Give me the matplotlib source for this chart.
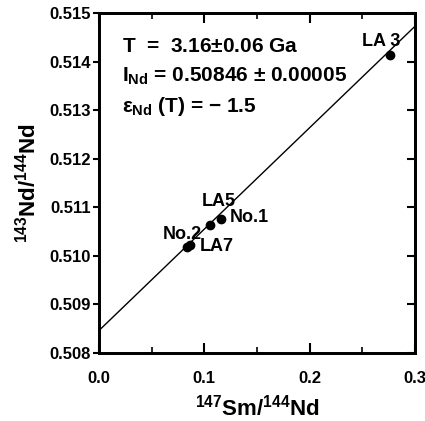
import numpy as np
import matplotlib
matplotlib.use("Agg")
import matplotlib.pyplot as plt

# sample data (147Sm/144Nd, 143Nd/144Nd)
muestras = ["LA 3", "LA5", "No.1", "No.2", "LA7"]
sm_nd = [0.276, 0.105, 0.116, 0.084, 0.086]
nd_nd = [0.51414, 0.51063, 0.51075, 0.51019, 0.51022]
error_y = [0.00003, 0.00008, 0.00005, 0.00005, 0.00003]
# label positions (data coords)
etiqueta_x = [0.2497, 0.0978, 0.1244, 0.0608, 0.0959]
etiqueta_y = [0.51441, 0.51111, 0.51078, 0.51043, 0.51019]

# isochron
intercepto = 0.50846
pendiente = 0.02088
x_linea = [0.0, 0.3]

plt.rcParams['font.family'] = ['Liberation Sans', 'DejaVu Sans']
plt.rcParams['font.weight'] = 'bold'
plt.rcParams['mathtext.fontset'] = 'custom'
plt.rcParams['mathtext.rm'] = 'Liberation Sans:bold'
plt.rcParams['mathtext.bf'] = 'Liberation Sans:bold'
plt.rcParams['mathtext.it'] = 'Liberation Sans:bold'

fig = plt.figure(figsize=(4.25, 4.21), dpi=100)
ax = fig.add_axes([0.233, 0.162, 0.743, 0.807])

y_linea = [intercepto + pendiente * x for x in x_linea]
ax.plot(x_linea, y_linea, color='black', lw=1.0)
ax.errorbar(sm_nd, nd_nd, yerr=error_y, fmt='o', color='black', ms=6, elinewidth=1.2, capsize=0)

ax.set_xlim(0, 0.3)
ax.set_ylim(0.508, 0.515)
ax.set_xticks([0.0, 0.1, 0.2, 0.3])
ax.set_xticklabels(["0.0", "0.1", "0.2", "0.3"])
ax.set_xticks([0.05, 0.15, 0.25], minor=True)
ax.set_yticks(np.arange(0.508, 0.5151, 0.001))
ax.set_yticklabels(["0.508", "0.509", "0.510", "0.511", "0.512", "0.513", "0.514", "0.515"])
ax.tick_params(axis='x', which='both', direction='in', top=True, labelsize=12, pad=13)
ax.tick_params(axis='x', which='major', length=7, width=1.5)
ax.tick_params(axis='x', which='minor', length=4, width=1.2)
ax.tick_params(axis='y', direction='out', length=4, width=1.5, labelsize=12, pad=2)
for l in ax.get_xticklabels() + ax.get_yticklabels():
    l.set_fontweight('bold')

ax2 = ax.twinx()
ax2.set_ylim(0.508, 0.515)
ax2.set_yticks(np.arange(0.508, 0.5151, 0.001))
ax2.tick_params(axis='y', direction='in', length=6, width=1.5, labelright=False)

for s in ax.spines.values():
    s.set_linewidth(2)
for s in ax2.spines.values():
    s.set_linewidth(2)

ax.set_xlabel(r'$\mathbf{^{147}Sm/^{144}Nd}$', fontsize=16, labelpad=6)
ax.set_ylabel(r'$\mathbf{^{143}Nd/^{144}Nd}$', fontsize=16, labelpad=6)

# sample labels
for nombre, ex, ey in zip(muestras, etiqueta_x, etiqueta_y):
    ax.text(ex, ey, nombre, fontsize=13, fontweight='bold', ha='left', va='center')

# age info
ax.text(0.022, 0.51431, r"T  =  3.16$\pm$0.06 Ga", fontsize=15, fontweight='bold', va='center')
ax.text(0.022, 0.51369, r"I$_{\mathbf{Nd}}$ = 0.50846 $\pm$ 0.00005", fontsize=15, fontweight='bold', va='center')
ax.text(0.022, 0.51307, r"$\varepsilon_{\mathbf{Nd}}$ (T) = $-$ 1.5", fontsize=15, fontweight='bold', va='center')

fig.savefig("out.png", dpi=100)
